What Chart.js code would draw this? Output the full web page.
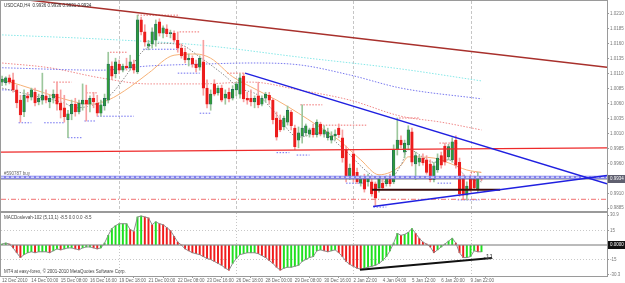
<!DOCTYPE html>
<html>
<head>
<meta charset="utf-8">
<script src="https://cdn.jsdelivr.net/npm/chart.js@4.4.0/dist/chart.umd.min.js"></script>
<style>
  html, body { margin: 0; padding: 0; background: #fff; }
  #wrap { position: relative; width: 625px; height: 283px; overflow: hidden; background: #fff; }
  #price { position: absolute; left: 0; top: 0; }
  #osc { position: absolute; left: 0; top: 212px; }
</style>
</head>
<body>
<div id="wrap">
  <canvas id="price" width="625" height="212"></canvas>
  <canvas id="osc" width="625" height="71"></canvas>
</div>
<script>
// time axis labels, one every 8 H4 bars
const timeLabels = ['12 Dec 2010', '14 Dec 00:00', '15 Dec 08:00', '16 Dec 16:00', '19 Dec 18:00',
  '21 Dec 00:00', '22 Dec 08:00', '23 Dec 16:00', '26 Dec 18:00', '28 Dec 00:00', '29 Dec 08:00',
  '30 Dec 16:00', '2 Jan 22:00', '4 Jan 04:00', '5 Jan 12:00', '6 Jan 20:00', '9 Jan 22:00'];
const priceTicks = [0.9885, 0.9910, 0.9935, 0.9960, 0.9985, 1.0010, 1.0035, 1.0060, 1.0085,
  1.0110, 1.0135, 1.0160, 1.0185, 1.0210];
const macdTicks = [30.9, 15, 0, -15, -30.3];

// USDCAD H4 candles
const openP = [1.0096, 1.0095, 1.0103, 1.0100, 1.0083, 1.0066, 1.0046, 1.0073, 1.0071, 1.0079,
  1.0063, 1.0066, 1.0073, 1.0063, 1.0069, 1.0076, 1.0061, 1.0053, 1.0033, 1.0043,
  1.0059, 1.0046, 1.0059, 1.0066, 1.0059, 1.0069, 1.0061, 1.0044, 1.0056, 1.0066,
  1.0123, 1.0110, 1.0126, 1.0116, 1.0123, 1.0120, 1.0126, 1.0113, 1.0200, 1.0180,
  1.0156, 1.0160, 1.0166, 1.0197, 1.0178, 1.0185, 1.0177, 1.0178, 1.0166, 1.0153,
  1.0146, 1.0133, 1.0136, 1.0126, 1.0121, 1.0130, 1.0086, 1.0059, 1.0093, 1.0078,
  1.0086, 1.0069, 1.0079, 1.0069, 1.0083, 1.0076, 1.0106, 1.0069, 1.0069, 1.0063,
  1.0073, 1.0059, 1.0069, 1.0074, 1.0066, 1.0036, 1.0033, 1.0021, 1.0029, 1.0046,
  1.0019, 0.9999, 1.0006, 1.0011, 1.0009, 1.0019, 1.0008, 1.0026, 1.0009, 1.0003,
  0.9999, 1.0006, 1.0019, 1.0003, 0.9983, 0.9939, 0.9976, 0.9945, 0.9927, 0.9936,
  0.9929, 0.9929, 0.9926, 0.9919, 0.9927, 0.9926, 0.9936, 0.9929, 0.9983, 0.9999,
  0.9979, 0.9991, 1.0013, 0.9959, 0.9962, 0.9969, 0.9966, 0.9959, 0.9933, 0.9949,
  0.9973, 0.9989, 0.9971, 0.9966, 0.9999, 0.9962, 0.9936, 0.9907, 0.9936, 0.9934,
  0.9916, 0.9936];
const highP = [1.0106, 1.0105, 1.0108, 1.0111, 1.0091, 1.0074, 1.0083, 1.0079, 1.0086, 1.0086,
  1.0076, 1.0111, 1.0083, 1.0074, 1.0083, 1.0096, 1.0083, 1.0074, 1.0049, 1.0066,
  1.0069, 1.0066, 1.0093, 1.0091, 1.0073, 1.0079, 1.0074, 1.0066, 1.0076, 1.0146,
  1.0130, 1.0136, 1.0133, 1.0126, 1.0136, 1.0141, 1.0133, 1.0208, 1.0205, 1.0192,
  1.0166, 1.0187, 1.0200, 1.0202, 1.0190, 1.0192, 1.0183, 1.0182, 1.0180, 1.0160,
  1.0153, 1.0143, 1.0140, 1.0133, 1.0140, 1.0166, 1.0100, 1.0083, 1.0100, 1.0090,
  1.0091, 1.0083, 1.0086, 1.0090, 1.0096, 1.0110, 1.0111, 1.0079, 1.0083, 1.0073,
  1.0096, 1.0073, 1.0079, 1.0079, 1.0069, 1.0046, 1.0041, 1.0039, 1.0056, 1.0049,
  1.0024, 1.0021, 1.0058, 1.0026, 1.0019, 1.0026, 1.0033, 1.0029, 1.0023, 1.0019,
  1.0013, 1.0016, 1.0026, 1.0016, 0.9989, 0.9959, 0.9983, 0.9952, 0.9939, 0.9942,
  0.9942, 0.9936, 0.9929, 0.9939, 0.9933, 0.9939, 0.9942, 0.9991, 1.0036, 1.0006,
  0.9999, 1.0023, 1.0019, 0.9979, 0.9974, 0.9976, 0.9973, 0.9966, 0.9962, 0.9976,
  0.9979, 0.9994, 0.9992, 1.0003, 1.0006, 0.9969, 0.9941, 0.9929, 0.9941, 0.9939,
  0.9945, 0.9936];
const lowP = [1.0090, 1.0091, 1.0093, 1.0079, 1.0053, 1.0029, 1.0038, 1.0063, 1.0066, 1.0056,
  1.0058, 1.0059, 1.0061, 1.0053, 1.0061, 1.0049, 1.0036, 1.0029, 1.0003, 1.0033,
  1.0039, 1.0043, 1.0049, 1.0031, 1.0046, 1.0053, 1.0039, 1.0039, 1.0049, 1.0061,
  1.0100, 1.0103, 1.0110, 1.0113, 1.0116, 1.0116, 1.0111, 1.0110, 1.0175, 1.0156,
  1.0150, 1.0153, 1.0156, 1.0173, 1.0170, 1.0172, 1.0170, 1.0163, 1.0146, 1.0136,
  1.0128, 1.0123, 1.0121, 1.0113, 1.0116, 1.0074, 1.0053, 1.0049, 1.0073, 1.0074,
  1.0063, 1.0059, 1.0063, 1.0066, 1.0073, 1.0069, 1.0063, 1.0059, 1.0056, 1.0053,
  1.0053, 1.0056, 1.0063, 1.0059, 1.0026, 0.9999, 1.0013, 1.0016, 1.0024, 1.0016,
  0.9983, 0.9986, 0.9994, 1.0006, 1.0004, 1.0004, 1.0004, 1.0006, 1.0004, 0.9999,
  0.9994, 0.9999, 1.0003, 0.9962, 0.9929, 0.9933, 0.9929, 0.9926, 0.9922, 0.9912,
  0.9922, 0.9905, 0.9889, 0.9912, 0.9916, 0.9922, 0.9922, 0.9926, 0.9974, 0.9986,
  0.9969, 0.9983, 0.9956, 0.9933, 0.9956, 0.9957, 0.9942, 0.9929, 0.9929, 0.9945,
  0.9952, 0.9957, 0.9966, 0.9962, 0.9952, 0.9905, 0.9899, 0.9899, 0.9912, 0.9916,
  0.9912, 0.9931];
const closeP = [1.0101, 1.0103, 1.0096, 1.0083, 1.0061, 1.0041, 1.0074, 1.0069, 1.0083, 1.0061,
  1.0069, 1.0074, 1.0066, 1.0069, 1.0076, 1.0059, 1.0049, 1.0038, 1.0043, 1.0059,
  1.0046, 1.0061, 1.0066, 1.0059, 1.0069, 1.0063, 1.0044, 1.0058, 1.0069, 1.0126,
  1.0106, 1.0130, 1.0116, 1.0123, 1.0120, 1.0130, 1.0116, 1.0200, 1.0180, 1.0163,
  1.0160, 1.0180, 1.0193, 1.0178, 1.0187, 1.0177, 1.0178, 1.0166, 1.0153, 1.0140,
  1.0133, 1.0136, 1.0126, 1.0120, 1.0136, 1.0086, 1.0059, 1.0076, 1.0076, 1.0086,
  1.0066, 1.0076, 1.0068, 1.0084, 1.0093, 1.0103, 1.0068, 1.0066, 1.0063, 1.0069,
  1.0058, 1.0069, 1.0076, 1.0066, 1.0033, 1.0004, 1.0016, 1.0036, 1.0049, 1.0023,
  0.9988, 1.0011, 1.0019, 1.0023, 1.0016, 1.0008, 1.0029, 1.0009, 1.0016, 1.0013,
  1.0006, 1.0009, 1.0008, 0.9969, 0.9936, 0.9952, 0.9936, 0.9929, 0.9934, 0.9917,
  0.9939, 0.9909, 0.9902, 0.9936, 0.9919, 0.9936, 0.9926, 0.9983, 0.9999, 0.9991,
  0.9994, 1.0016, 0.9962, 0.9973, 0.9969, 0.9961, 0.9945, 0.9933, 0.9956, 0.9969,
  0.9957, 0.9962, 0.9988, 0.9996, 0.9957, 0.9909, 0.9907, 0.9922, 0.9916, 0.9919,
  0.9936, 0.9934];

// oscillator histogram, one value per bar
const macdHist = [1, 2, 1, -3, -8, -13, -10, -8, -7, -8,
  -7, -7, -7, -8, -6, -4, -5, -4, -3, -3,
  -4, -5, -3, -2, -2, -3, -4, -3, 2, 10,
  17, 20, 22, 22, 22, 16, 14, 29, 30, 29,
  28, 21, 24, 22, 21, 18, 15, 9, 3, 0,
  -4, -6, -8, -9, -10, -12, -14, -15, -17, -19,
  -21, -24, -26, -19, -14, -10, -9, -8, -8, -8,
  -9, -11, -13, -16, -19, -23, -26, -24, -23, -23,
  -22, -21, -17, -15, -13, -12, -6, -5, -6, -7,
  -6, -5, -8, -12, -17, -20, -22, -24, -25, -24,
  -23, -22, -21, -19, -16, -12, -6, 2, 12, 10,
  11, 13, 17, 12, 7, 3, 1, -2, -8, -5,
  -2, 1, 4, 7, 2, -8, -13, -13, -12, -6,
  -7, -7];

// moving averages: [bar, price]
const maCyan = [[0, 1.0175], [27, 1.0168], [54, 1.0158], [81, 1.0138], [109, 1.0118], [131, 1.0098]];
const maBlue = [[0, 1.0120], [27, 1.0116], [40, 1.0123], [54, 1.0126], [68, 1.0128], [81, 1.0125],
  [95, 1.0108], [109, 1.0086], [131, 1.0068]];
const maRed = [[0, 1.0128], [13, 1.0120], [27, 1.0103], [40, 1.0093], [54, 1.0093], [68, 1.0096],
  [81, 1.0083], [95, 1.0066], [109, 1.0039], [120, 1.0029], [131, 1.0016]];
const maOrange = [[0, 1.0100], [5, 1.0091], [18, 1.0066], [24, 1.0059], [29, 1.0066], [35, 1.0088],
  [40, 1.0111], [47, 1.0141], [53, 1.0143], [57, 1.0136], [63, 1.0105], [68, 1.0088], [75, 1.0066],
  [81, 1.0044], [86, 1.0024], [92, 0.9999], [98, 0.9966], [103, 0.9941], [106, 0.9945], [109, 0.9957],
  [111, 0.9971], [118, 0.9969], [122, 0.9961], [127, 0.9949], [131, 0.9945]];
const maGrey = [[0, 1.0086], [8, 1.0074], [17, 1.0061], [20, 1.0053], [25, 1.0058], [29, 1.0071],
  [34, 1.0108], [38, 1.0145], [43, 1.0161], [49, 1.0158], [54, 1.0138], [60, 1.0111], [65, 1.0086],
  [70, 1.0074], [74, 1.0049], [81, 1.0004], [87, 1.0011], [93, 0.9986], [100, 0.9945], [105, 0.9929],
  [109, 0.9957], [111, 0.9983], [118, 0.9962], [122, 0.9966], [127, 0.9937], [131, 0.9929]];

// fractal levels: [fromBar, toBar, price]
const fractalUp = [[14, 19, 1.0096], [23, 26, 1.0078], [29.5, 34, 1.0146], [37, 48.5, 1.0208],
  [48.5, 54, 1.0180], [61.5, 66.5, 1.0111], [81.5, 87.5, 1.0058], [86, 99.5, 1.0024],
  [108.5, 114, 1.0036], [119.5, 124.5, 0.9994], [128, 131, 0.9945]];
const fractalDown = [[0, 3, 1.0083], [4.5, 8, 1.0028], [11.5, 17, 1.0028], [18, 22, 1.0003],
  [22.5, 25.5, 1.0031], [26, 36, 1.0039], [38.5, 48, 1.0151], [48, 54, 1.0111], [54, 57, 1.0044],
  [75, 78.5, 0.9978], [80.5, 84, 0.9974], [94, 99.5, 0.9927], [101.5, 105, 0.9887],
  [119, 123, 0.9927], [124.5, 130.5, 0.9899]];

// drawn objects: [bar, price]
const trendRed = [[7.7, 1.0233], [165.3, 1.0121]];
const trendDown = [[66.4, 1.0111], [165.3, 0.9926]];
const trendUp = [[101.4, 0.9888], [165.3, 0.9940]];
const supportLine = [[101.1, 0.9916], [136.1, 0.9916]];
const redLevel = [[-0.3, 0.9979], [165.3, 0.9986]];
const orderPrice = 0.9937;
const bidPrice = 0.9934;
const stopPrice = 0.9900;
const macdTrend = [[97.8, -25.7], [133.9, -13.4]];
const macdLast = -11;

const xMin = -0.3, xMax = 165.3;
const FONT = 'Liberation Sans';
Chart.defaults.font.family = FONT;
Chart.defaults.font.size = 4.5;

const bars = openP.map((_, i) => i);
const pts = arr => arr.map(([x, y]) => ({ x, y }));
const hline = p => [{ x: xMin, y: p }, { x: xMax, y: p }];
const segs = arr => {
  const out = [];
  arr.forEach(([a, b, p]) => { out.push({ x: a, y: p }, { x: b, y: p }, { x: b, y: null }); });
  return out;
};
const isBull = bars.map(i => closeP[i] >= openP[i]);

function lineSet(data, color, width, dash, order, smooth) {
  return {
    type: 'line', data, borderColor: color, borderWidth: width, borderDash: dash || [],
    pointRadius: 0, fill: false, order, spanGaps: false,
    cubicInterpolationMode: smooth ? 'monotone' : 'default', tension: 0
  };
}

const chrome = {
  id: 'chrome',
  beforeDatasetsDraw(chart) {
    const { ctx, chartArea: a, scales: { x } } = chart;
    ctx.save();
    ctx.strokeStyle = '#c6c6c6';
    ctx.lineWidth = 1;
    ctx.setLineDash(chart.canvas.id === 'price' ? [3, 2] : [1, 2]);
    timeLabels.forEach((_, i) => {
      const v = i * 8;
      if (v === 0 || v % 32) return;
      const px = Math.round(x.getPixelForValue(v)) + 0.5;
      ctx.beginPath(); ctx.moveTo(px, a.top); ctx.lineTo(px, a.bottom); ctx.stroke();
    });
    ctx.restore();
  },
  afterDraw(chart) {
    const { ctx, chartArea: a, scales: { x, y } } = chart;
    ctx.save();
    ctx.strokeStyle = '#9a9a9a';
    ctx.lineWidth = 1;
    ctx.strokeRect(a.left - 0.5, a.top - 0.5, a.right - a.left + 1, a.bottom - a.top + 1);
    ctx.textBaseline = 'middle';
    ctx.font = '4.5px ' + FONT;
    if (chart.canvas.id === 'price') {
      ctx.fillStyle = '#333';
      ctx.fillText('USDCAD,H4  0.9936 0.9936 0.9931 0.9934', a.left + 3, a.top + 5);
      ctx.fillStyle = '#666';
      ctx.fillText('#590787 buy', a.left + 3, y.getPixelForValue(orderPrice) - 3);
      const by = Math.round(y.getPixelForValue(bidPrice));
      ctx.fillStyle = '#5f5f6f';
      ctx.fillRect(a.right + 1, by - 4, 20, 8);
      ctx.fillStyle = '#fff';
      ctx.fillText(bidPrice.toFixed(4), a.right + 3, by);
    } else {
      ctx.fillStyle = '#444';
      ctx.fillText('MACDoslevah-102 (5,13,1) -8.5 0.0 0.0 -8.5', a.left + 3, a.top + 5);
      ctx.fillText('MT4 at easy-forex, \u00a9 2001-2010 MetaQuotes Software Corp.', a.left + 3, a.bottom - 4);
      const zy = Math.round(y.getPixelForValue(0));
      ctx.fillStyle = '#111';
      ctx.fillRect(a.right + 1, zy - 4, 20, 8);
      ctx.fillStyle = '#fff';
      ctx.fillText('0.0000', a.right + 3, zy);
      ctx.fillStyle = '#444';
      ctx.font = '7px ' + FONT;
      ctx.fillText('-11', x.getPixelForValue(bars.length - 1) + 2, y.getPixelForValue(macdLast) + 1);
    }
    ctx.restore();
  }
};

const zeroPad = s => { s.paddingTop = 0; s.paddingBottom = 0; s.paddingLeft = 0; s.paddingRight = 0; };

new Chart(document.getElementById('price'), {
  type: 'bar',
  data: {
    datasets: [
      lineSet(pts(trendRed), '#a8302c', 1.5, null, 0),
      lineSet(pts(trendDown), '#2020e0', 1.5, null, 0),
      lineSet(pts(trendUp), '#2020e0', 1.5, null, 0),
      lineSet(pts(supportLine), '#3a0c0c', 2, null, 0),
      lineSet(hline(orderPrice), '#ffffff', 1, [3, 2], 1),
      lineSet(hline(orderPrice), '#8080ee', 3, null, 2),
      lineSet(hline(bidPrice), '#6a6a6a', 1, null, 2),
      lineSet(pts(redLevel), '#ee2a2a', 1.3, null, 2),
      lineSet(hline(stopPrice), '#f07070', 1, [5, 2, 1, 2], 2),
      {
        type: 'bar', grouped: false, order: 5,
        data: bars.map(i => ({ x: i, y: [openP[i], closeP[i]] })),
        backgroundColor: bars.map(i => isBull[i] ? '#2f9a3a' : '#ec1c1c'),
        borderColor: bars.map(i => isBull[i] ? '#1d4f6a' : '#ec1c1c'),
        borderWidth: 0.5, borderSkipped: false,
        barThickness: 2.6, minBarLength: 1
      },
      {
        type: 'bar', grouped: false, order: 6,
        data: bars.map(i => ({ x: i, y: [lowP[i], highP[i]] })),
        backgroundColor: bars.map(i => isBull[i] ? '#9cc79c' : '#f7a0a0'),
        barThickness: 1, borderWidth: 0
      },
      lineSet(pts(maGrey), '#8a8a8a', 1, [1.5, 1.5], 7, true),
      lineSet(pts(maOrange), '#f6b278', 1, null, 7, true),
      lineSet(pts(maCyan), '#86e8e8', 1, [1.5, 1.5], 8, true),
      lineSet(pts(maBlue), '#7878ee', 1, [1.5, 1.5], 8, true),
      lineSet(pts(maRed), '#f08888', 1, [1.5, 1.5], 8, true),
      lineSet(segs(fractalUp), '#f07070', 1, [1.5, 1.5], 9),
      lineSet(segs(fractalDown), '#6e6ef0', 1, [1.5, 1.5], 9)
    ]
  },
  options: {
    responsive: false, animation: false, devicePixelRatio: 1,
    layout: { padding: { left: 1, top: 1, bottom: 1, right: 0 } },
    plugins: { legend: { display: false }, tooltip: { enabled: false } },
    scales: {
      x: {
        type: 'linear', min: xMin, max: xMax, offset: false,
        grid: { display: false }, ticks: { display: false }, border: { display: false },
        afterFit: s => { s.height = 0; zeroPad(s); }
      },
      y: {
        position: 'right', min: 0.98804, max: 1.02317,
        afterBuildTicks: s => { s.ticks = priceTicks.map(v => ({ value: v })); },
        afterFit: s => { s.width = 18; zeroPad(s); },
        ticks: { color: '#777', padding: 1, callback: v => v.toFixed(4), font: { size: 4.5 } },
        grid: { drawOnChartArea: false, tickLength: 2, color: '#999' },
        border: { color: '#999' }
      }
    }
  },
  plugins: [chrome]
});

const histColor = macdHist.map((v, i) => (i === 0 || v >= macdHist[i - 1]) ? '#1ee01e' : '#f01c1c');

new Chart(document.getElementById('osc'), {
  type: 'bar',
  data: {
    datasets: [
      lineSet(pts(macdTrend), '#111', 2, null, 0),
      lineSet(hline(0), '#777', 1, null, 3),
      lineSet(hline(15), '#c8c8c8', 1, [1, 2], 9),
      lineSet(hline(-15), '#c8c8c8', 1, [1, 2], 9),
      lineSet(bars.map(i => ({ x: i, y: macdHist[i] })), '#8c8c8c', 1, null, 2),
      {
        type: 'bar', grouped: false, order: 4,
        data: bars.map(i => ({ x: i, y: macdHist[i] })),
        backgroundColor: histColor, barThickness: 1.3, borderWidth: 0
      }
    ]
  },
  options: {
    responsive: false, animation: false, devicePixelRatio: 1,
    layout: { padding: { left: 1, top: 1, bottom: 0, right: 0 } },
    plugins: { legend: { display: false }, tooltip: { enabled: false } },
    scales: {
      x: {
        type: 'linear', min: xMin, max: xMax, offset: false,
        afterBuildTicks: s => { s.ticks = timeLabels.map((_, i) => ({ value: i * 8 })); },
        afterFit: s => { s.height = 7; zeroPad(s); },
        ticks: {
          color: '#666', padding: 0, align: 'start', maxRotation: 0, minRotation: 0, autoSkip: false,
          callback: (v, i) => timeLabels[i], font: { size: 4.5 }
        },
        grid: { drawOnChartArea: false, tickLength: 2, color: '#999' },
        border: { color: '#999' }
      },
      y: {
        position: 'right', min: -32.06, max: 33.1,
        afterBuildTicks: s => { s.ticks = macdTicks.map(v => ({ value: v })); },
        afterFit: s => { s.width = 18; zeroPad(s); },
        ticks: { color: '#777', padding: 1, callback: v => v === 0 ? '' : String(v), font: { size: 4.5 } },
        grid: { drawOnChartArea: false, tickLength: 2, color: '#999' },
        border: { color: '#999' }
      }
    }
  },
  plugins: [chrome]
});
</script>
</body>
</html>
